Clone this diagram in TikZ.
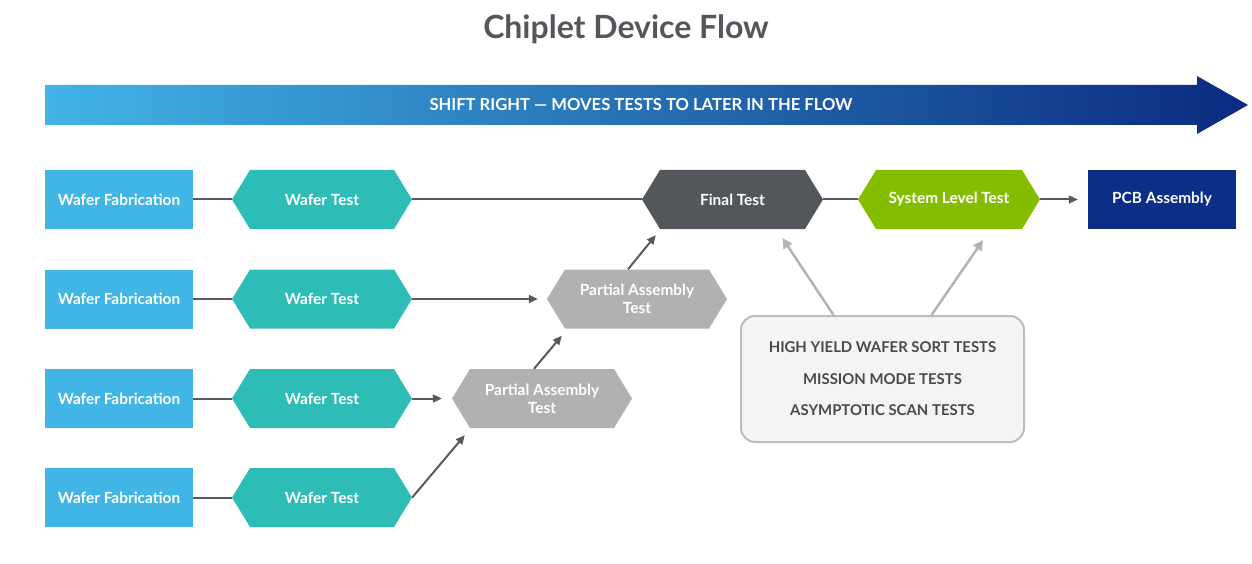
\documentclass[tikz,border=0pt]{standalone}
\usepackage{fontspec}
\setmainfont{Lato}
\usetikzlibrary{arrows.meta}
\definecolor{titlegray}{HTML}{53565A}
\definecolor{arrowA}{HTML}{42B4E6}
\definecolor{arrowB}{HTML}{0A2A80}
\definecolor{fabblue}{HTML}{41B6E6}
\definecolor{teal}{HTML}{2DBDB6}
\definecolor{patgray}{HTML}{B1B1B1}
\definecolor{ftgray}{HTML}{53565A}
\definecolor{sltgreen}{HTML}{84BD00}
\definecolor{pcbnavy}{HTML}{0B2E86}
\definecolor{linedark}{HTML}{555A5E}
\definecolor{linelight}{HTML}{B3B3B3}
\definecolor{boxfill}{HTML}{F4F4F4}
\definecolor{boxline}{HTML}{BDBDBD}
\definecolor{boxtext}{HTML}{4A4A4A}
\tikzset{
  base/.style={inner sep=0pt, text=white, font=\bfseries\fontsize{15.4}{18}\selectfont, align=center},
  rectbox/.style={base, fill=#1, minimum width=148pt, minimum height=59pt},
  hexbox/.style={base, minimum width=180pt, minimum height=59pt,
    path picture={\fill[#1] (path picture bounding box.west)
      -- ([xshift=18pt]path picture bounding box.north west)
      -- ([xshift=-18pt]path picture bounding box.north east)
      -- (path picture bounding box.east)
      -- ([xshift=-18pt]path picture bounding box.south east)
      -- ([xshift=18pt]path picture bounding box.south west) -- cycle;}},
  conn/.style={draw=linedark, line width=2pt},
  connarrow/.style={conn, -{Triangle[length=9pt,width=8pt]}},
  lightarrow/.style={draw=linelight, line width=2.5pt, -{Triangle[length=10pt,width=10pt]}},
}
\begin{document}
\begin{tikzpicture}[x=1pt,y=-1pt]
\useasboundingbox (0,0) rectangle (1252,564);
% title
\node[font=\bfseries\fontsize{32}{36}\selectfont, text=titlegray] (title) at (626,29) {Chiplet Device Flow};
% big arrow
\shade[left color=arrowA, right color=arrowB] (45,85) -- (1197,85) -- (1197,76) -- (1248,105) -- (1197,134) -- (1197,125) -- (45,125) -- cycle;
\node[base, font=\bfseries\fontsize{16.6}{18}\selectfont] (shift) at (641,105) {SHIFT RIGHT — MOVES TESTS TO LATER IN THE FLOW};
% row 1
\node[rectbox=fabblue] (wf1) at (119,199.5) {Wafer Fabrication};
\node[hexbox=teal] (wt1) at (322,199.5) {Wafer Test};
\node[hexbox=ftgray, minimum width=181pt] (ft) at (732.5,199.5) {Final Test};
\node[hexbox=sltgreen, minimum width=182pt] (slt) at (949,199.5) {System Level Test};
\node[rectbox=pcbnavy] (pcb) at (1162,199.5) {PCB Assembly};
% row 2
\node[rectbox=fabblue] (wf2) at (119,299) {Wafer Fabrication};
\node[hexbox=teal] (wt2) at (322,299) {Wafer Test};
\node[hexbox=patgray] (pa2) at (637,299) {Partial Assembly\\Test};
% row 3
\node[rectbox=fabblue] (wf3) at (119,398.5) {Wafer Fabrication};
\node[hexbox=teal] (wt3) at (322,398.5) {Wafer Test};
\node[hexbox=patgray] (pa3) at (542,398.5) {Partial Assembly\\Test};
% row 4
\node[rectbox=fabblue] (wf4) at (119,497.5) {Wafer Fabrication};
\node[hexbox=teal] (wt4) at (322,497.5) {Wafer Test};
% box
\node[draw=boxline, line width=2pt, fill=boxfill, rounded corners=14pt, minimum width=283pt, minimum height=126pt,
  inner sep=0pt, align=center, text=boxtext, font=\bfseries\fontsize{14.9}{31.5}\selectfont] (box) at (882.5,379)
  {HIGH YIELD WAFER SORT TESTS\\MISSION MODE TESTS\\ASYMPTOTIC SCAN TESTS};
% connectors
\path[conn] (wf1) -- (wt1);
\path[conn] (wf2) -- (wt2);
\path[conn] (wf3) -- (wt3);
\path[conn] (wf4) -- (wt4);
\path[conn] (wt1.east) -- (ft.west);
\path[conn] (ft.east) -- (slt.west);
\path[connarrow, shorten >=10pt] (slt.east) -- (pcb.west);
\path[connarrow, shorten >=9pt] (wt2.east) -- (pa2.west);
\path[connarrow, shorten >=10pt] (wt3.east) -- (pa3.west);
\path[connarrow] (wt4.east) -- ([shift={(13,7)}]pa3.south west);
\path[connarrow] ([xshift=-8pt]pa3.north) -- ([shift={(15,7)}]pa2.south west);
\path[connarrow] ([xshift=-9pt]pa2.north) -- ([shift={(14,6)}]ft.south west);
\path[lightarrow] ([xshift=-49pt]box.north) -- ([shift={(50,9)}]ft.south);
\path[lightarrow] ([xshift=49pt]box.north) -- ([shift={(34,11)}]slt.south);
\end{tikzpicture}
\end{document}
